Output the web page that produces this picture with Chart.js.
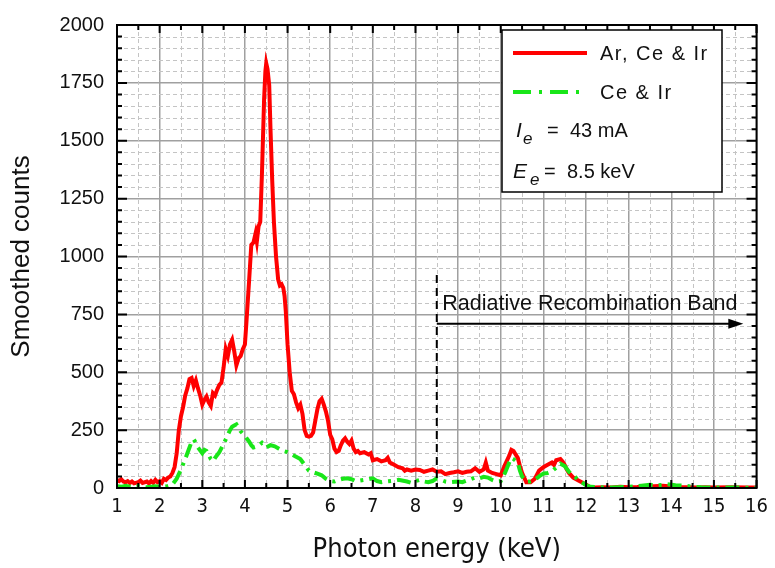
<!DOCTYPE html>
<html>
<head>
<meta charset="utf-8">
<title>Smoothed counts vs photon energy</title>
<script src="https://cdn.jsdelivr.net/npm/chart.js@4.4.1/dist/chart.umd.min.js"></script>
<style>
  html, body { margin: 0; padding: 0; background: #fff; }
  #wrap { width: 775px; height: 568px; }
</style>
</head>
<body>
<div id="wrap"><canvas id="spectrum" width="775" height="568"></canvas></div>
<script>
// Ar, Ce & Ir spectrum
const arEnergy = [
  1.0, 1.05, 1.1, 1.15, 1.2, 1.25, 1.3, 1.35, 1.4, 1.5, 1.55, 1.6, 1.7, 1.75, 1.8, 1.85, 1.9, 1.95, 2.0, 2.05,
  2.1, 2.15, 2.2, 2.25, 2.3, 2.35, 2.4, 2.45, 2.5, 2.55, 2.6, 2.65, 2.7, 2.75, 2.8, 2.85, 2.9, 2.95, 3.0, 3.05,
  3.1, 3.15, 3.2, 3.25, 3.3, 3.35, 3.4, 3.45, 3.5, 3.55, 3.6, 3.65, 3.7, 3.75, 3.8, 3.85, 3.9, 3.95, 4.0, 4.03,
  4.1, 4.15, 4.2, 4.25, 4.28, 4.32, 4.36, 4.4, 4.45, 4.48, 4.5, 4.53, 4.57, 4.6, 4.64, 4.68, 4.73, 4.78, 4.82, 4.86,
  4.9, 4.93, 4.96, 5.0, 5.05, 5.1, 5.15, 5.2, 5.25, 5.3, 5.35, 5.4, 5.45, 5.5, 5.55, 5.6, 5.65, 5.7, 5.75, 5.8,
  5.85, 5.9, 5.95, 6.0, 6.05, 6.1, 6.15, 6.2, 6.25, 6.3, 6.35, 6.4, 6.45, 6.5, 6.55, 6.6, 6.65, 6.7, 6.8, 6.9,
  6.95, 7.0, 7.1, 7.2, 7.3, 7.35, 7.4, 7.5, 7.6, 7.7, 7.75, 7.8, 7.9, 8.0, 8.1, 8.2, 8.3, 8.4, 8.5, 8.6,
  8.7, 8.8, 8.9, 9.0, 9.1, 9.2, 9.3, 9.4, 9.5, 9.6, 9.65, 9.7, 9.8, 9.9, 10.0, 10.1, 10.2, 10.25, 10.3, 10.35,
  10.4, 10.45, 10.5, 10.55, 10.6, 10.7, 10.8, 10.9, 11.0, 11.1, 11.2, 11.25, 11.3, 11.4, 11.45, 11.5, 11.55, 11.6, 11.7, 11.8,
  11.9, 12.0, 12.1, 12.2, 12.4, 12.6, 12.8, 13.0, 13.2, 13.4, 13.6, 13.8, 14.0, 14.2, 14.4, 14.6, 14.8, 15.0, 15.4, 15.8,
  16.0
];
const arCounts = [
  35, 30, 38, 28, 25, 30, 22, 28, 20, 25, 32, 22, 28, 20, 30, 22, 35, 25, 30, 22,
  40, 35, 45, 50, 65, 90, 150, 250, 310, 350, 400, 430, 470, 475, 440, 465, 430, 400, 360, 380,
  395, 370, 355, 410, 400, 425, 445, 455, 520, 600, 570, 620, 640, 590, 530, 560, 570, 600, 620, 700,
  900, 1050, 1060, 1100, 1065, 1130, 1150, 1360, 1680, 1800, 1835, 1810, 1740, 1550, 1330, 1150, 1000, 900, 875, 880,
  865, 830, 760, 620, 500, 420, 405, 370, 345, 360, 320, 250, 225, 222, 225, 240, 290, 340, 375, 385,
  360, 330, 290, 230, 210, 170, 155, 160, 185, 205, 215, 200, 190, 205, 170, 155, 160, 150, 155, 145,
  150, 120, 125, 115, 120, 130, 110, 100, 90, 85, 75, 80, 75, 80, 78, 70, 75, 80, 70, 72,
  60, 65, 68, 72, 65, 70, 72, 85, 70, 80, 110, 75, 65, 60, 55, 100, 140, 165, 160, 145,
  130, 95, 65, 45, 25, 25, 40, 75, 90, 100, 110, 100, 120, 125, 115, 100, 80, 65, 45, 35,
  25, 15, 3, 2, 3, 2, 5, 3, 4, 6, 8, 10, 6, 4, 3, 2, 3, 2, 3, 2,
  2
];

// Ce & Ir spectrum
const ceEnergy = [
  1.0, 1.1, 1.2, 1.3, 1.4, 1.5, 1.6, 1.7, 1.8, 1.9, 2.0, 2.1, 2.2, 2.3, 2.4, 2.5, 2.6, 2.7, 2.75, 2.8,
  2.85, 2.9, 3.0, 3.05, 3.1, 3.2, 3.25, 3.3, 3.4, 3.5, 3.6, 3.65, 3.7, 3.75, 3.8, 3.85, 3.9, 4.0, 4.1, 4.15,
  4.2, 4.3, 4.4, 4.5, 4.6, 4.7, 4.8, 4.9, 5.0, 5.1, 5.2, 5.3, 5.4, 5.5, 5.6, 5.7, 5.8, 5.9, 6.0, 6.1,
  6.2, 6.3, 6.4, 6.5, 6.6, 6.7, 6.8, 6.9, 7.0, 7.1, 7.2, 7.3, 7.5, 7.6, 7.8, 7.9, 8.0, 8.1, 8.2, 8.3,
  8.4, 8.5, 8.6, 8.7, 8.8, 9.0, 9.1, 9.2, 9.3, 9.4, 9.5, 9.6, 9.7, 9.8, 9.9, 10.0, 10.1, 10.2, 10.25, 10.3,
  10.4, 10.45, 10.5, 10.6, 10.7, 10.8, 10.9, 11.0, 11.1, 11.2, 11.3, 11.4, 11.5, 11.6, 11.7, 11.8, 11.9, 12.0, 12.1, 12.3,
  12.6, 12.9, 13.1, 13.3, 13.5, 13.7, 13.9, 14.1, 14.3, 14.5, 14.7, 15.0, 15.5, 16.0
];
const ceCounts = [
  8, 5, 10, 6, 4, 8, 5, 3, 6, 8, 5, 6, 8, 15, 40, 80, 125, 175, 200, 210,
  195, 175, 150, 165, 160, 125, 115, 130, 155, 190, 230, 250, 265, 270, 275, 260, 245, 225, 200, 185,
  175, 180, 195, 175, 185, 180, 170, 160, 155, 145, 135, 125, 100, 75, 68, 62, 55, 40, 30, 28,
  35, 40, 42, 38, 30, 32, 35, 38, 42, 30, 25, 28, 32, 35, 28, 22, 30, 35, 28, 25,
  30, 42, 35, 28, 25, 28, 25, 32, 38, 45, 42, 48, 45, 35, 28, 30, 65, 110, 130, 125,
  110, 75, 50, 28, 28, 35, 50, 62, 65, 72, 88, 105, 95, 70, 55, 38, 25, 12, 5, 3,
  2, 4, 6, 10, 14, 12, 16, 12, 10, 6, 3, 2, 2, 1
];

const xTicks = [1, 2, 3, 4, 5, 6, 7, 8, 9, 10, 11, 12, 13, 14, 15, 16];
const yTicks = [0, 250, 500, 750, 1000, 1250, 1500, 1750, 2000];

const RED = '#ff0000';
const GREEN = '#19e619';
const SANS = '"Liberation Sans", Arial, sans-serif';
const NARROW = '"DejaVu Sans Condensed", "Liberation Sans Narrow", ' + SANS;

const toPoints = (xs, ys) => xs.map((x, i) => ({ x, y: ys[i] }));

// minor grid, frame, inward ticks, annotation and the boxed legend
const decorPlugin = {
  id: 'decor',
  beforeDatasetsDraw(chart) {
    const { ctx, chartArea: a, scales: { x, y } } = chart;
    ctx.save();
    ctx.strokeStyle = '#c4c4c4';
    ctx.lineWidth = 1;
    ctx.setLineDash([4, 3]);
    for (let v = 1.5; v < 16; v += 1) {
      const px = Math.round(x.getPixelForValue(v)) + 0.5;
      ctx.beginPath(); ctx.moveTo(px, a.top); ctx.lineTo(px, a.bottom); ctx.stroke();
    }
    for (let v = 50; v < 2000; v += 50) {
      if (v % 250 === 0) continue;
      const py = Math.round(y.getPixelForValue(v)) + 0.5;
      ctx.beginPath(); ctx.moveTo(a.left, py); ctx.lineTo(a.right, py); ctx.stroke();
    }
    ctx.restore();
  },
  afterDatasetsDraw(chart) {
    const { ctx, chartArea: a, scales: { x, y } } = chart;
    ctx.save();

    // frame
    ctx.strokeStyle = '#000';
    ctx.lineWidth = 2;
    ctx.setLineDash([]);
    ctx.strokeRect(a.left, a.top, a.right - a.left, a.bottom - a.top);

    // inward ticks on all four sides
    ctx.beginPath();
    for (let v = 1; v <= 16.001; v += 0.5) {
      const px = x.getPixelForValue(v);
      const len = Number.isInteger(v) ? 8 : 5;
      ctx.moveTo(px, a.bottom); ctx.lineTo(px, a.bottom - len);
      ctx.moveTo(px, a.top); ctx.lineTo(px, a.top + len);
    }
    for (let v = 0; v <= 2000; v += 50) {
      const py = y.getPixelForValue(v);
      const len = v % 250 === 0 ? 10 : 5;
      ctx.moveTo(a.left, py); ctx.lineTo(a.left + len, py);
      ctx.moveTo(a.right, py); ctx.lineTo(a.right - len, py);
    }
    ctx.stroke();

    // Radiative recombination band marker
    const bx = x.getPixelForValue(8.5);
    ctx.setLineDash([8, 5]);
    ctx.beginPath();
    ctx.moveTo(bx, y.getPixelForValue(920));
    ctx.lineTo(bx, a.bottom);
    ctx.stroke();
    ctx.setLineDash([]);
    const ay = y.getPixelForValue(710);
    const tip = x.getPixelForValue(15.69);
    ctx.beginPath();
    ctx.moveTo(bx, ay); ctx.lineTo(tip - 10, ay);
    ctx.stroke();
    ctx.fillStyle = '#000';
    ctx.beginPath();
    ctx.moveTo(tip, ay); ctx.lineTo(tip - 15, ay - 5); ctx.lineTo(tip - 15, ay + 5);
    ctx.closePath(); ctx.fill();
    ctx.font = '21.5px ' + SANS;
    ctx.textBaseline = 'alphabetic';
    ctx.textAlign = 'left';
    ctx.fillStyle = '#111';
    ctx.fillText('Radiative Recombination Band', x.getPixelForValue(8.63), y.getPixelForValue(770));

    // legend box
    const lx = 502, ly = 30, lw = 220, lh = 162;
    ctx.fillStyle = '#fff';
    ctx.fillRect(lx, ly, lw, lh);
    ctx.strokeStyle = '#000';
    ctx.lineWidth = 1.5;
    ctx.strokeRect(lx, ly, lw, lh);

    ctx.lineWidth = 4;
    ctx.strokeStyle = RED;
    ctx.beginPath(); ctx.moveTo(513, 53); ctx.lineTo(587, 53); ctx.stroke();
    ctx.strokeStyle = GREEN;
    ctx.setLineDash([18, 8, 3, 8]);
    ctx.beginPath(); ctx.moveTo(513, 92); ctx.lineTo(587, 92); ctx.stroke();
    ctx.setLineDash([]);

    ctx.fillStyle = '#111';
    ctx.textBaseline = 'middle';
    ctx.font = '20px ' + SANS;
    ctx.letterSpacing = '1.5px';
    ctx.fillText('Ar, Ce & Ir', 600, 54);
    ctx.fillText('Ce & Ir', 600, 93);
    ctx.letterSpacing = '0px';

    ctx.font = 'italic 21px ' + SANS;
    ctx.fillText('I', 516, 131);
    ctx.fillText('E', 513, 172);
    ctx.font = 'italic 17px ' + SANS;
    ctx.fillText('e', 523, 139);
    ctx.fillText('e', 530, 180);
    ctx.font = '20px ' + SANS;
    ctx.fillText('=', 547, 131);
    ctx.fillText('43 mA', 570, 131);
    ctx.fillText('=', 544, 172);
    ctx.fillText('8.5 keV', 567, 172);

    ctx.restore();
  }
};

const ctx = document.getElementById('spectrum').getContext('2d');
new Chart(ctx, {
  type: 'line',
  data: {
    datasets: [
      {
        label: 'Ar, Ce & Ir',
        data: toPoints(arEnergy, arCounts),
        borderColor: RED,
        backgroundColor: RED,
        borderWidth: 4,
        pointRadius: 0,
        tension: 0,
        order: 2
      },
      {
        label: 'Ce & Ir',
        data: toPoints(ceEnergy, ceCounts),
        borderColor: GREEN,
        backgroundColor: GREEN,
        borderWidth: 4,
        borderDash: [14, 6, 3, 6],
        pointRadius: 0,
        tension: 0,
        order: 1
      }
    ]
  },
  options: {
    responsive: false,
    devicePixelRatio: 1,
    animation: false,
    layout: { padding: { top: 14, right: 15, left: 0, bottom: 0 } },
    plugins: {
      legend: { display: false },
      tooltip: { enabled: false }
    },
    scales: {
      x: {
        type: 'linear',
        min: 1,
        max: 16,
        afterBuildTicks: (s) => { s.ticks = xTicks.map(v => ({ value: v })); },
        afterFit: (s) => { s.height = 80; },
        ticks: {
          font: { family: NARROW, size: 20 },
          color: '#111',
          padding: 7,
          maxRotation: 0,
          autoSkip: false,
          callback: (v) => String(v)
        },
        grid: { color: '#a0a0a0', lineWidth: 1.5, drawTicks: false },
        border: { display: false },
        title: {
          display: true,
          text: 'Photon energy (keV)',
          font: { family: NARROW, size: 27 },
          color: '#111',
          padding: { top: 2, bottom: 2 }
        }
      },
      y: {
        min: 0,
        max: 2000,
        afterBuildTicks: (s) => { s.ticks = yTicks.map(v => ({ value: v })); },
        afterFit: (s) => { s.width = 117; },
        ticks: {
          font: { family: SANS, size: 20 },
          color: '#111',
          padding: 13,
          callback: (v) => String(v)
        },
        grid: { color: '#a0a0a0', lineWidth: 1.5, drawTicks: false },
        border: { display: false },
        title: {
          display: true,
          text: 'Smoothed counts',
          font: { family: SANS, size: 26 },
          color: '#111',
          padding: { top: 6, bottom: 6 }
        }
      }
    }
  },
  plugins: [decorPlugin]
});
</script>
</body>
</html>
